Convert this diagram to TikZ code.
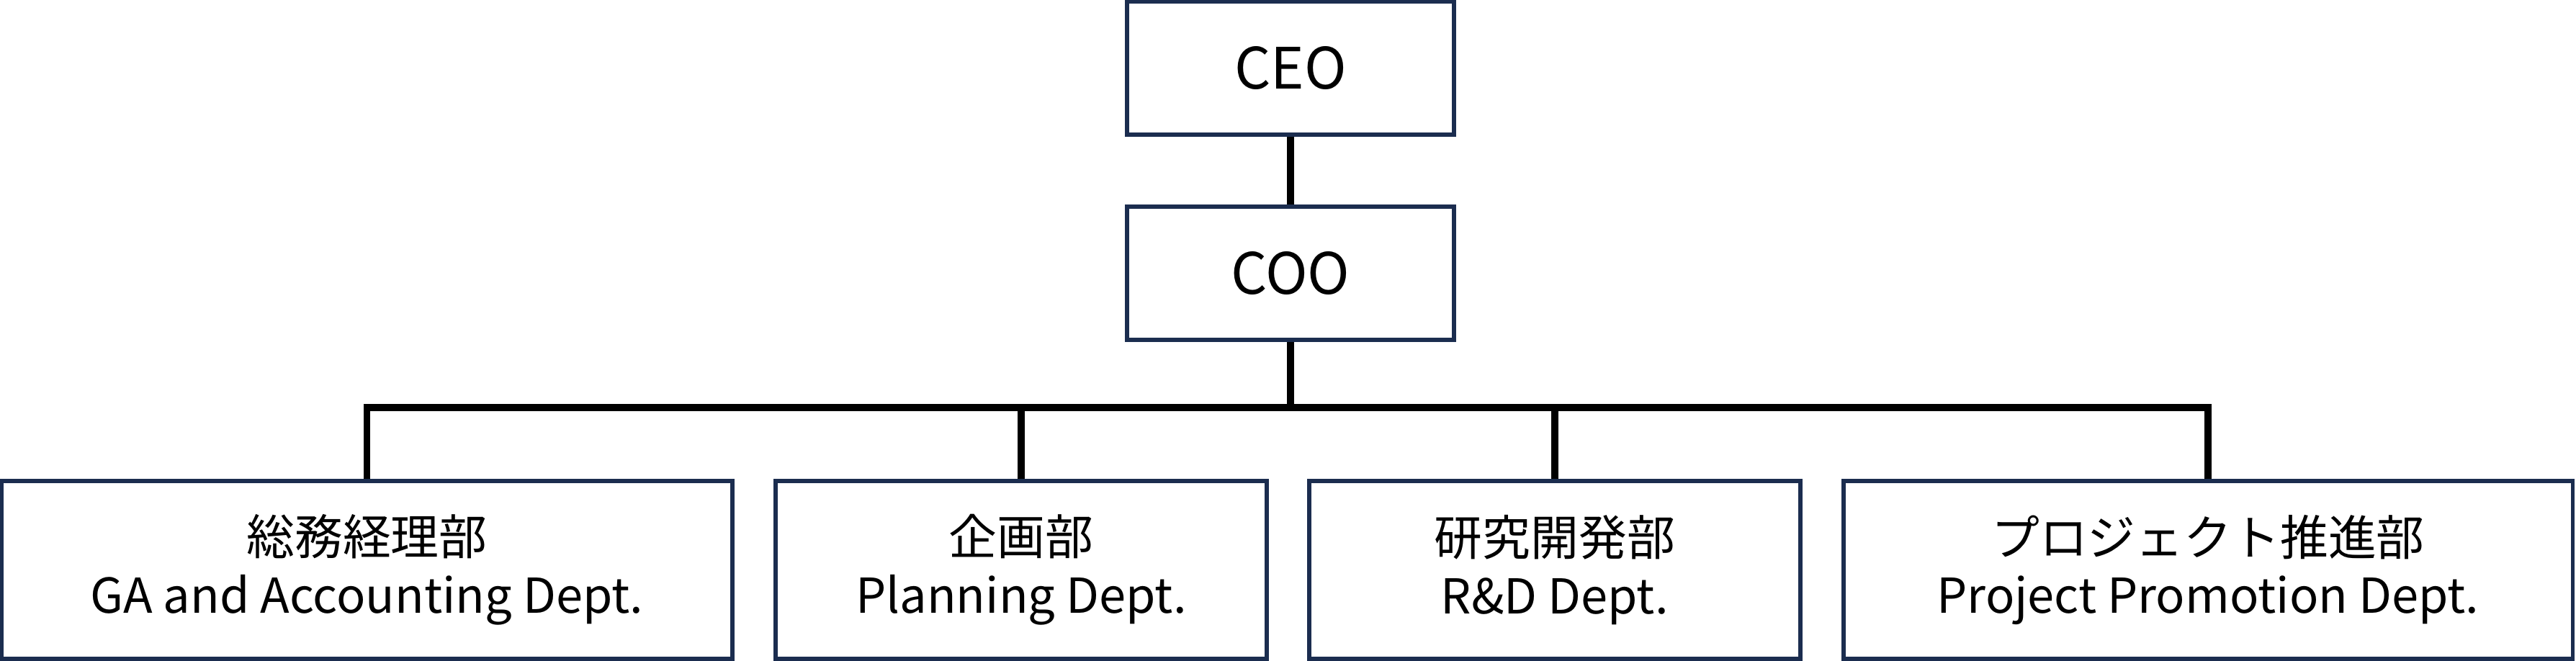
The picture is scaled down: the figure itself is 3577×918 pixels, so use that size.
\documentclass[tikz,border=0pt]{standalone}
\usepackage{fontspec}
\setmainfont{Noto Sans CJK JP}
\usepackage{xcolor}
\definecolor{boxnavy}{HTML}{1B2D4F}

\begin{document}
\begin{tikzpicture}[x=0.01cm,y=-0.01cm,
        unit/.style={draw=boxnavy, line width=1.6pt, rectangle, align=center,
            font=\fontsize{22.5}{26}\selectfont, minimum height=1.85cm, minimum width=4.54cm},
        dept/.style={unit, minimum height=2.47cm, font=\fontsize{19}{23}\selectfont},
        link/.style={line width=2.8pt}]
            \useasboundingbox (0,0) rectangle (3577,918);

            \node[unit] (ceo) at (1792,94.5) {CEO};
            \node[unit] (coo) at (1792,379.5) {COO};

            \node[dept, minimum width=10.15cm] (ga) at (509.5,791.5) {総務経理部\\GA and Accounting Dept.};
            \node[dept, minimum width=6.82cm] (plan) at (1418,791.5) {企画部\\Planning Dept.};
            \node[dept, minimum width=6.82cm] (rd) at (2159,791.5) {研究開発部\\R\&D Dept.};
            \node[dept, minimum width=10.12cm] (proj) at (3066,791.5) {プロジェクト推進部\\Project Promotion Dept.};

            \coordinate (bus) at (1792,566);
            \draw[link] (ceo.south) -- (coo.north);
            \draw[link] (coo.south) -- (bus);
            \draw[link] (ga.north) |- (bus) -| (proj.north);
            \draw[link] (plan.north) -- (plan.north |- bus);
            \draw[link] (rd.north) -- (rd.north |- bus);
        \end{tikzpicture}
\end{document}
